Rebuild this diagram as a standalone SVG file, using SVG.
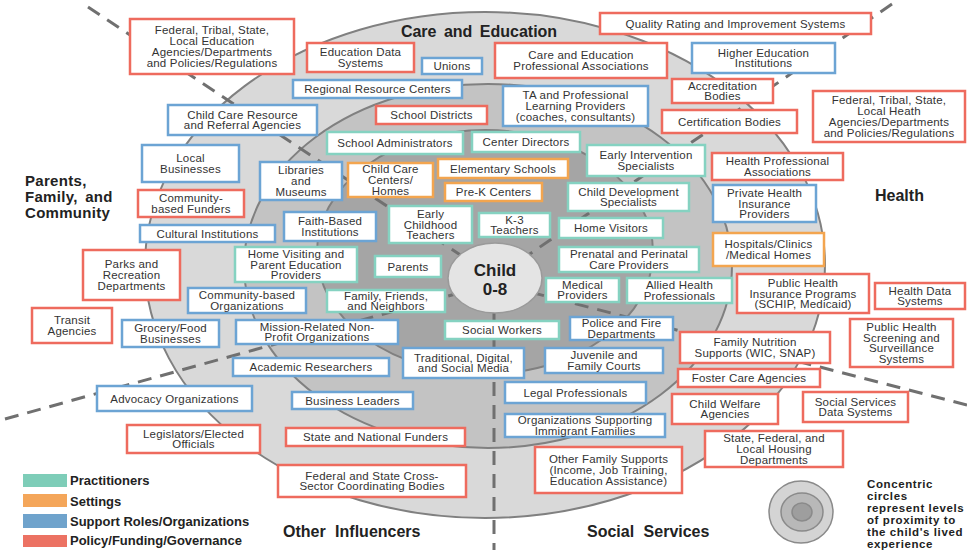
<svg xmlns="http://www.w3.org/2000/svg" width="967" height="550" viewBox="0 0 967 550">
<style>
.n rect{fill:#fff;stroke-width:2.5}
.red{stroke:#ee6b5e}.blue{stroke:#6ca4d4}.teal{stroke:#85d2c1}.orange{stroke:#f3a54f}
.n text{font-family:"Liberation Sans",Arial,sans-serif;font-size:11.5px;fill:#333;text-anchor:middle;letter-spacing:0.2px}
.ring{stroke:#808080;stroke-width:2}
.dash{stroke:#707070;stroke-width:3;stroke-dasharray:14 9;fill:none}
.sec{font-family:"Liberation Sans",Arial,sans-serif;font-size:16px;font-weight:bold;fill:#222;word-spacing:3px}
.pfc{font-family:"Liberation Sans",Arial,sans-serif;font-size:15px;font-weight:bold;fill:#222;word-spacing:3px;letter-spacing:0.3px}
.leg{font-family:"Liberation Sans",Arial,sans-serif;font-size:13px;font-weight:bold;fill:#222}
.prox{font-family:"Liberation Sans",Arial,sans-serif;font-size:11.5px;font-weight:bold;fill:#222;letter-spacing:0.6px}
.ch{font-family:"Liberation Sans",Arial,sans-serif;font-size:17px;font-weight:bold;fill:#222;text-anchor:middle}
</style>
<rect width="967" height="550" fill="#fff"/>
<g id="rings">
<ellipse class="ring" cx="485" cy="265" rx="340" ry="253" fill="#d9d9d9"/>
<ellipse class="ring" cx="488" cy="266" rx="244" ry="182" fill="#c3c3c3"/>
<ellipse class="ring" cx="485" cy="252" rx="168" ry="122" fill="#a5a5a5"/>
</g>
<g id="connectors">
<line class="dash" x1="88" y1="7" x2="495" y2="278"/>
<line class="dash" x1="892" y1="4" x2="495" y2="278"/>
<line class="dash" x1="5" y1="419" x2="495" y2="283"/>
<line class="dash" x1="967" y1="405" x2="495" y2="283"/>
<line class="dash" x1="494" y1="290" x2="494" y2="550"/>
</g>
<g id="child">
<ellipse cx="495" cy="278" rx="47" ry="35" fill="#e4e4e4" stroke="#9a9a9a" stroke-width="1.5"/>
<text class="ch" x="495" y="276">Child</text>
<text class="ch" x="495" y="295">0-8</text>
</g>
<g id="sectors">
<text class="sec" x="479" y="37" text-anchor="middle">Care and Education</text>
<text class="pfc" x="25" y="186">Parents,</text>
<text class="pfc" x="25" y="202">Family, and</text>
<text class="pfc" x="25" y="218">Community</text>
<text class="sec" x="875" y="201">Health</text>
<text class="sec" x="283" y="537" style="word-spacing:5px">Other Influencers</text>
<text class="sec" x="587" y="537" style="word-spacing:5px">Social Services</text>
</g>
<g id="n1" class="n"><rect class="red" x="130" y="19" width="164" height="55"/><text><tspan x="212" y="34.3">Federal, Tribal, State,</tspan><tspan x="212" y="45.1">Local Education</tspan><tspan x="212" y="55.9">Agencies/Departments</tspan><tspan x="212" y="66.7">and Policies/Regulations</tspan></text></g>
<g id="n2" class="n"><rect class="blue" x="168" y="105" width="149" height="30"/><text><tspan x="242.5" y="118.6">Child Care Resource</tspan><tspan x="242.5" y="129.4">and Referral Agencies</tspan></text></g>
<g id="n3" class="n"><rect class="blue" x="142" y="145" width="97" height="37"/><text><tspan x="190.5" y="162.1">Local</tspan><tspan x="190.5" y="172.9">Businesses</tspan></text></g>
<g id="n4" class="n"><rect class="blue" x="260" y="162" width="82" height="38"/><text><tspan x="301" y="174.2">Libraries</tspan><tspan x="301" y="185">and</tspan><tspan x="301" y="195.8">Museums</tspan></text></g>
<g id="n5" class="n"><rect class="red" x="307" y="43" width="107" height="29"/><text><tspan x="360.5" y="56.1">Education Data</tspan><tspan x="360.5" y="66.9">Systems</tspan></text></g>
<g id="n6" class="n"><rect class="blue" x="422" y="58" width="60" height="16"/><text><tspan x="452" y="70">Unions</tspan></text></g>
<g id="n7" class="n"><rect class="red" x="495" y="43" width="172" height="35"/><text><tspan x="581" y="59.1">Care and Education</tspan><tspan x="581" y="69.9">Professional Associations</tspan></text></g>
<g id="n8" class="n"><rect class="blue" x="293" y="80" width="169" height="18"/><text><tspan x="377.5" y="93">Regional Resource Centers</tspan></text></g>
<g id="n9" class="n"><rect class="blue" x="503" y="86" width="145" height="40"/><text><tspan x="575.5" y="99.2">TA  and Professional</tspan><tspan x="575.5" y="110">Learning Providers</tspan><tspan x="575.5" y="120.8">(coaches, consultants)</tspan></text></g>
<g id="n10" class="n"><rect class="red" x="376" y="106" width="111" height="18"/><text><tspan x="431.5" y="119">School Districts</tspan></text></g>
<g id="n11" class="n"><rect class="teal" x="327" y="132" width="136" height="22"/><text><tspan x="395" y="147">School Administrators</tspan></text></g>
<g id="n12" class="n"><rect class="teal" x="472" y="132" width="108" height="20"/><text><tspan x="526" y="146">Center Directors</tspan></text></g>
<g id="n13" class="n"><rect class="orange" x="438" y="159" width="130" height="19"/><text><tspan x="503" y="172.5">Elementary Schools</tspan></text></g>
<g id="n14" class="n"><rect class="orange" x="348" y="163" width="85" height="34"/><text><tspan x="390.5" y="173.2">Child Care</tspan><tspan x="390.5" y="184">Centers/</tspan><tspan x="390.5" y="194.8">Homes</tspan></text></g>
<g id="n15" class="n"><rect class="red" x="600" y="13" width="271" height="21"/><text><tspan x="735.5" y="27.5">Quality Rating and Improvement Systems</tspan></text></g>
<g id="n16" class="n"><rect class="blue" x="692" y="43" width="143" height="30"/><text><tspan x="763.5" y="56.6">Higher Education</tspan><tspan x="763.5" y="67.4">Institutions</tspan></text></g>
<g id="n17" class="n"><rect class="red" x="672" y="79" width="101" height="24"/><text><tspan x="722.5" y="89.6">Accreditation</tspan><tspan x="722.5" y="100.4">Bodies</tspan></text></g>
<g id="n18" class="n"><rect class="red" x="662" y="110" width="135" height="23"/><text><tspan x="729.5" y="125.5">Certification Bodies</tspan></text></g>
<g id="n19" class="n"><rect class="red" x="813" y="91" width="152" height="51"/><text><tspan x="889" y="104.3">Federal, Tribal, State,</tspan><tspan x="889" y="115.1">Local Heath</tspan><tspan x="889" y="125.9">Agencies/Departments</tspan><tspan x="889" y="136.7">and Policies/Regulations</tspan></text></g>
<g id="n20" class="n"><rect class="teal" x="587" y="145" width="118" height="31"/><text><tspan x="646" y="159.1">Early Intervention</tspan><tspan x="646" y="169.9">Specialists</tspan></text></g>
<g id="n21" class="n"><rect class="red" x="712" y="153" width="131" height="27"/><text><tspan x="777.5" y="165.1">Health Professional</tspan><tspan x="777.5" y="175.9">Associations</tspan></text></g>
<g id="n22" class="n"><rect class="blue" x="713" y="185" width="103" height="37"/><text><tspan x="764.5" y="196.7">Private Health</tspan><tspan x="764.5" y="207.5">Insurance</tspan><tspan x="764.5" y="218.3">Providers</tspan></text></g>
<g id="n23" class="n"><rect class="orange" x="713" y="233" width="111" height="33"/><text><tspan x="768.5" y="248.1">Hospitals/Clinics</tspan><tspan x="768.5" y="258.9">/Medical Homes</tspan></text></g>
<g id="n24" class="n"><rect class="red" x="737" y="274" width="132" height="39"/><text><tspan x="803" y="286.7">Public Health</tspan><tspan x="803" y="297.5">Insurance Programs</tspan><tspan x="803" y="308.3">(SCHIP, Medicaid)</tspan></text></g>
<g id="n25" class="n"><rect class="red" x="875" y="283" width="90" height="26"/><text><tspan x="920" y="294.6">Health Data</tspan><tspan x="920" y="305.4">Systems</tspan></text></g>
<g id="n26" class="n"><rect class="red" x="850" y="319" width="103" height="48"/><text><tspan x="901.5" y="330.8">Public Health</tspan><tspan x="901.5" y="341.6">Screening and</tspan><tspan x="901.5" y="352.4">Surveillance</tspan><tspan x="901.5" y="363.2">Systems</tspan></text></g>
<g id="n27" class="n"><rect class="red" x="680" y="332" width="150" height="31"/><text><tspan x="755" y="346.1">Family Nutrition</tspan><tspan x="755" y="356.9">Supports (WIC, SNAP)</tspan></text></g>
<g id="n28" class="n"><rect class="teal" x="627" y="278" width="105" height="25"/><text><tspan x="679.5" y="289.1">Allied Health</tspan><tspan x="679.5" y="299.9">Professionals</tspan></text></g>
<g id="n29" class="n"><rect class="teal" x="568" y="183" width="121" height="28"/><text><tspan x="628.5" y="195.6">Child Development</tspan><tspan x="628.5" y="206.4">Specialists</tspan></text></g>
<g id="n30" class="n"><rect class="orange" x="445" y="183" width="97" height="18"/><text><tspan x="493.5" y="196">Pre-K Centers</tspan></text></g>
<g id="n31" class="n"><rect class="teal" x="479" y="213" width="71" height="24"/><text><tspan x="514.5" y="223.6">K-3</tspan><tspan x="514.5" y="234.4">Teachers</tspan></text></g>
<g id="n32" class="n"><rect class="teal" x="559" y="218" width="104" height="20"/><text><tspan x="611" y="232">Home Visitors</tspan></text></g>
<g id="n33" class="n"><rect class="teal" x="559" y="247" width="140" height="25"/><text><tspan x="629" y="258.1">Prenatal and Perinatal</tspan><tspan x="629" y="268.9">Care Providers</tspan></text></g>
<g id="n34" class="n"><rect class="teal" x="546" y="278" width="73" height="24"/><text><tspan x="582.5" y="288.6">Medical</tspan><tspan x="582.5" y="299.4">Providers</tspan></text></g>
<g id="n35" class="n"><rect class="blue" x="570" y="317" width="103" height="23"/><text><tspan x="621.5" y="327.1">Police and Fire</tspan><tspan x="621.5" y="337.9">Departments</tspan></text></g>
<g id="n36" class="n"><rect class="teal" x="445" y="321" width="114" height="18"/><text><tspan x="502" y="334">Social Workers</tspan></text></g>
<g id="n37" class="n"><rect class="teal" x="389" y="206" width="83" height="37"/><text><tspan x="430.5" y="217.7">Early</tspan><tspan x="430.5" y="228.5">Childhood</tspan><tspan x="430.5" y="239.3">Teachers</tspan></text></g>
<g id="n38" class="n"><rect class="teal" x="375" y="256" width="66" height="21"/><text><tspan x="408" y="270.5">Parents</tspan></text></g>
<g id="n39" class="n"><rect class="teal" x="327" y="290" width="118" height="22"/><text><tspan x="386" y="299.6">Family, Friends,</tspan><tspan x="386" y="310.4">and Neighbors</tspan></text></g>
<g id="n40" class="n"><rect class="blue" x="284" y="212" width="92" height="29"/><text><tspan x="330" y="225.1">Faith-Based</tspan><tspan x="330" y="235.9">Institutions</tspan></text></g>
<g id="n41" class="n"><rect class="teal" x="235" y="247" width="122" height="35"/><text><tspan x="296" y="257.7">Home Visiting and</tspan><tspan x="296" y="268.5">Parent Education</tspan><tspan x="296" y="279.3">Providers</tspan></text></g>
<g id="n42" class="n"><rect class="blue" x="188" y="288" width="118" height="25"/><text><tspan x="247" y="299.1">Community-based</tspan><tspan x="247" y="309.9">Organizations</tspan></text></g>
<g id="n43" class="n"><rect class="blue" x="236" y="320" width="162" height="24"/><text><tspan x="317" y="330.6">Mission-Related Non-</tspan><tspan x="317" y="341.4">Profit Organizations</tspan></text></g>
<g id="n44" class="n"><rect class="blue" x="233" y="358" width="156" height="18"/><text><tspan x="311" y="371">Academic Researchers</tspan></text></g>
<g id="n45" class="n"><rect class="blue" x="403" y="348" width="121" height="30"/><text><tspan x="463.5" y="361.6">Traditional, Digital,</tspan><tspan x="463.5" y="372.4">and Social Media</tspan></text></g>
<g id="n46" class="n"><rect class="blue" x="545" y="348" width="118" height="25"/><text><tspan x="604" y="359.1">Juvenile and</tspan><tspan x="604" y="369.9">Family Courts</tspan></text></g>
<g id="n47" class="n"><rect class="blue" x="505" y="382" width="141" height="21"/><text><tspan x="575.5" y="396.5">Legal Professionals</tspan></text></g>
<g id="n48" class="n"><rect class="blue" x="505" y="414" width="160" height="23"/><text><tspan x="585" y="424.1">Organizations Supporting</tspan><tspan x="585" y="434.9">Immigrant Families</tspan></text></g>
<g id="n49" class="n"><rect class="red" x="535" y="447" width="147" height="46"/><text><tspan x="608.5" y="463.2">Other Family Supports</tspan><tspan x="608.5" y="474">(Income, Job Training,</tspan><tspan x="608.5" y="484.8">Education Assistance)</tspan></text></g>
<g id="n50" class="n"><rect class="red" x="138" y="190" width="106" height="27"/><text><tspan x="191" y="202.1">Community-</tspan><tspan x="191" y="212.9">based Funders</tspan></text></g>
<g id="n51" class="n"><rect class="blue" x="140" y="225" width="135" height="17"/><text><tspan x="207.5" y="237.5">Cultural Institutions</tspan></text></g>
<g id="n52" class="n"><rect class="red" x="83" y="250" width="97" height="50"/><text><tspan x="131.5" y="268.2">Parks and</tspan><tspan x="131.5" y="279">Recreation</tspan><tspan x="131.5" y="289.8">Departments</tspan></text></g>
<g id="n53" class="n"><rect class="red" x="32" y="308" width="80" height="35"/><text><tspan x="72" y="324.1">Transit</tspan><tspan x="72" y="334.9">Agencies</tspan></text></g>
<g id="n54" class="n"><rect class="blue" x="122" y="320" width="97" height="27"/><text><tspan x="170.5" y="332.1">Grocery/Food</tspan><tspan x="170.5" y="342.9">Businesses</tspan></text></g>
<g id="n55" class="n"><rect class="blue" x="97" y="386" width="155" height="25"/><text><tspan x="174.5" y="402.5">Advocacy Organizations</tspan></text></g>
<g id="n56" class="n"><rect class="red" x="127" y="425" width="133" height="28"/><text><tspan x="193.5" y="437.6">Legislators/Elected</tspan><tspan x="193.5" y="448.4">Officials</tspan></text></g>
<g id="n57" class="n"><rect class="blue" x="292" y="392" width="121" height="17"/><text><tspan x="352.5" y="404.5">Business Leaders</tspan></text></g>
<g id="n58" class="n"><rect class="red" x="286" y="428" width="179" height="18"/><text><tspan x="375.5" y="441">State and National Funders</tspan></text></g>
<g id="n59" class="n"><rect class="red" x="278" y="465" width="188" height="32"/><text><tspan x="372" y="479.6">Federal and State Cross-</tspan><tspan x="372" y="490.4">Sector Coordinating Bodies</tspan></text></g>
<g id="n60" class="n"><rect class="red" x="678" y="369" width="142" height="18"/><text><tspan x="749" y="382">Foster Care Agencies</tspan></text></g>
<g id="n61" class="n"><rect class="red" x="672" y="394" width="106" height="30"/><text><tspan x="725" y="407.6">Child Welfare</tspan><tspan x="725" y="418.4">Agencies</tspan></text></g>
<g id="n62" class="n"><rect class="red" x="803" y="392" width="105" height="30"/><text><tspan x="855.5" y="405.6">Social Services</tspan><tspan x="855.5" y="416.4">Data Systems</tspan></text></g>
<g id="n63" class="n"><rect class="red" x="705" y="431" width="138" height="36"/><text><tspan x="774" y="442.2">State, Federal, and</tspan><tspan x="774" y="453">Local Housing</tspan><tspan x="774" y="463.8">Departments</tspan></text></g>
<g id="legend">
<rect x="23" y="474" width="44" height="13" fill="#7ecdb8"/>
<rect x="23" y="494" width="44" height="13" fill="#f4a65a"/>
<rect x="23" y="514" width="44" height="14" fill="#6fa3cc"/>
<rect x="23" y="535" width="44" height="12" fill="#ec7263"/>
<text class="leg" x="70" y="485">Practitioners</text>
<text class="leg" x="70" y="506">Settings</text>
<text class="leg" x="70" y="526">Support Roles/Organizations</text>
<text class="leg" x="70" y="545">Policy/Funding/Governance</text>
</g>
<g id="proximity-legend">
<ellipse cx="801" cy="512" rx="32" ry="31" fill="#d4d4d4" stroke="#8a8a8a" stroke-width="1.5"/>
<ellipse cx="802" cy="512" rx="21" ry="19" fill="#b8b8b8" stroke="#8a8a8a" stroke-width="1.5"/>
<ellipse cx="802" cy="512" rx="10" ry="9" fill="#9e9e9e" stroke="#8a8a8a" stroke-width="1.5"/>
<text class="prox"><tspan x="867" y="488">Concentric</tspan><tspan x="867" y="500">circles</tspan><tspan x="867" y="512">represent levels</tspan><tspan x="867" y="524">of proximity to</tspan><tspan x="867" y="536">the child's lived</tspan><tspan x="867" y="548">experience</tspan></text>
</g>
</svg>
